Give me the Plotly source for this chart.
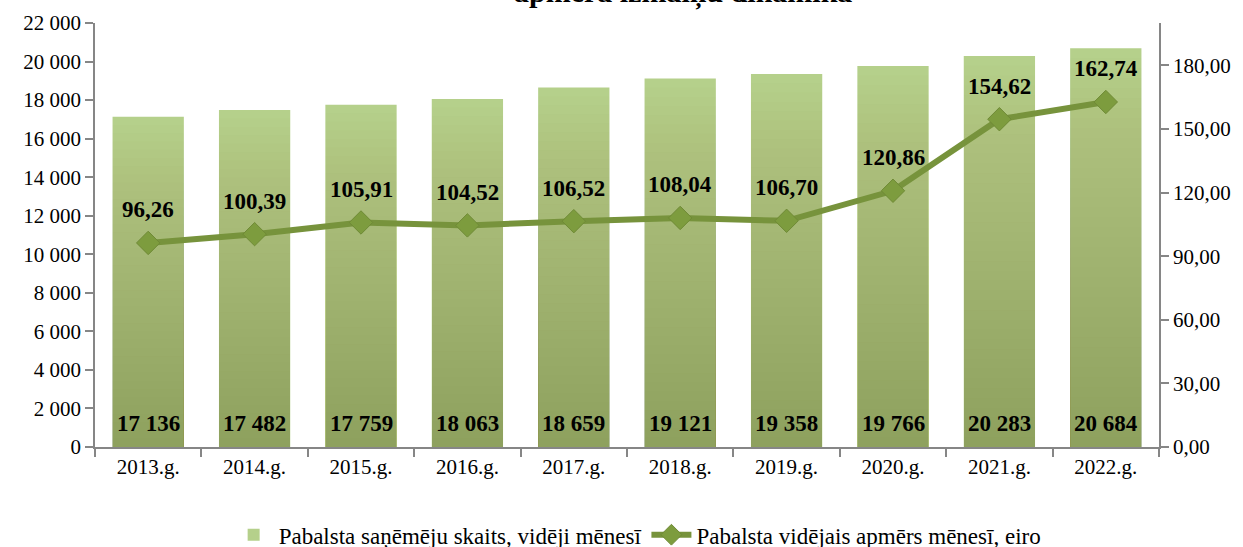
import plotly.graph_objects as go

years = ["2013.g.", "2014.g.", "2015.g.", "2016.g.", "2017.g.",
         "2018.g.", "2019.g.", "2020.g.", "2021.g.", "2022.g."]
recipients = [17136, 17482, 17759, 18063, 18659, 19121, 19358, 19766, 20283, 20684]
avg_amount = [96.26, 100.39, 105.91, 104.52, 106.52, 108.04, 106.70, 120.86, 154.62, 162.74]

bar_name = "Pabalsta saņēmēju skaits, vidēji mēnesī"
line_name = "Pabalsta vidējais apmērs mēnesī, eiro"
title_text = "apmēra izmaiņu dinamika"

FONT = "Liberation Serif, Times New Roman, serif"

fig = go.Figure()

# main bars (light top colour)
fig.add_trace(go.Bar(
    x=years, y=recipients, name=bar_name,
    marker=dict(color="#b5d08b", line=dict(width=0)),
    yaxis="y",
))

# gradient layers (darken towards the base)
N = 40
alpha = 1 - 0.5 ** (1 / (N - 1))
for k in range(1, N):
    frac = (N - k) / N
    fig.add_trace(go.Bar(
        x=years, y=[v * frac for v in recipients],
        marker=dict(color=f"rgba(100,110,72,{alpha:.4f})", line=dict(width=0)),
        showlegend=False, hoverinfo="skip", yaxis="y",
    ))

# line
fig.add_trace(go.Scatter(
    x=years, y=avg_amount, name=line_name, yaxis="y2",
    mode="lines+markers",
    line=dict(color="#77933c", width=6),
    marker=dict(symbol="diamond", size=18, color="#7d9c3e",
                line=dict(color="#6f8a36", width=1)),
))

annotations = []
for yr, v in zip(years, recipients):
    annotations.append(dict(
        x=yr, y=0, xref="x", yref="y", yshift=24, yanchor="middle",
        text=f"{v:,}".replace(",", " "), showarrow=False,
        font=dict(family=FONT, size=23, color="black", weight="bold"),
    ))
for yr, v in zip(years, avg_amount):
    annotations.append(dict(
        x=yr, y=v, xref="x", yref="y2", yshift=33, yanchor="middle",
        text=f"{v:.2f}".replace(".", ","), showarrow=False,
        font=dict(family=FONT, size=23, color="black", weight="bold"),
    ))
annotations.append(dict(
    x=0.553, y=1.071, xref="paper", yref="paper", xanchor="center", yanchor="middle",
    text=title_text, showarrow=False,
    font=dict(family=FONT, size=30, color="black", weight="bold"),
))

axis_common = dict(
    showline=True, linecolor="#868686", linewidth=1.5,
    ticks="outside", ticklen=8, tickcolor="#868686", tickwidth=1.5,
    showgrid=False, zeroline=False, automargin=False,
    tickfont=dict(family=FONT, size=21, color="black"),
)

fig.update_layout(
    width=1243, height=547,
    margin=dict(l=95, r=84, t=23, b=100, autoexpand=False),
    paper_bgcolor="white", plot_bgcolor="white",
    font=dict(family=FONT, color="black"),
    separators=", ",
    barmode="overlay", bargap=0.33,
    annotations=annotations,
    xaxis=dict(type="category", tickson="boundaries", range=[-0.5, len(years) - 0.5],
               **axis_common),
    yaxis=dict(range=[0, 22000], dtick=2000, tickformat=",d", **axis_common),
    yaxis2=dict(range=[0, 200], dtick=30, tickformat=".2f", overlaying="y",
                side="right", **axis_common),
    legend=dict(orientation="h", x=0.51, xanchor="center", y=-0.207, yanchor="middle",
                font=dict(family=FONT, size=23, color="black"),
                itemwidth=40, tracegroupgap=0),
    showlegend=True,
)

fig.write_html(
    "out.html",
    config={"displayModeBar": False},
    post_script="document.body.style.margin='0';document.body.style.overflow='hidden';",
)
